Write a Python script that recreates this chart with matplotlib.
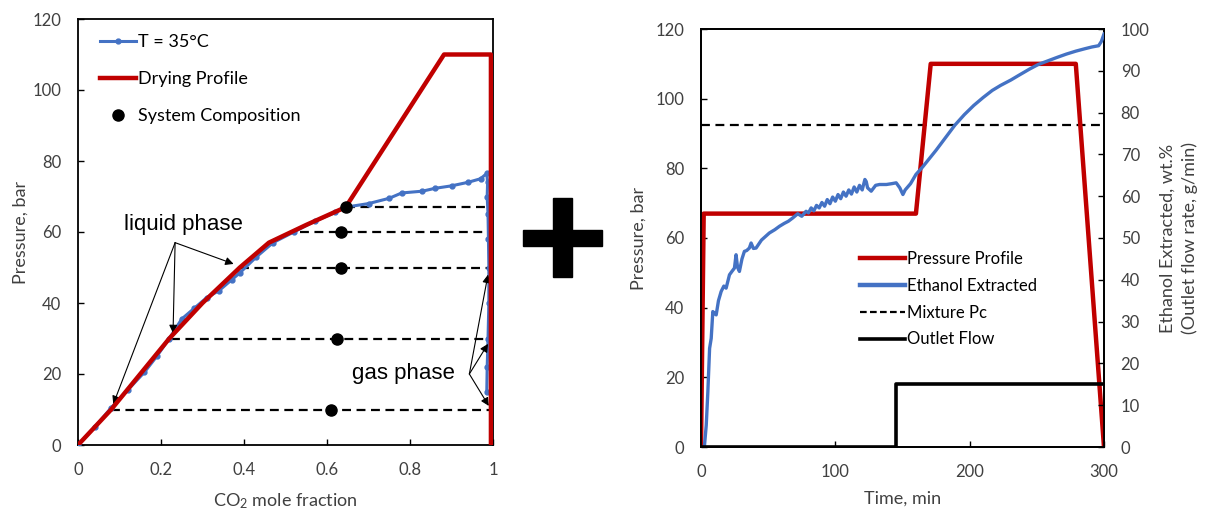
import matplotlib
matplotlib.use('Agg')
import matplotlib.pyplot as plt
from matplotlib.patches import Rectangle
from matplotlib.lines import Line2D

plt.rcParams['font.family'] = ['Lato', 'DejaVu Sans']
plt.rcParams['mathtext.default'] = 'regular'

RED = '#C00000'
BLUE = '#4472C4'
GREY = '#404040'

# ---- left chart: CO2 / ethanol phase diagram at 35 C ----
vle_x = [0, 0.04, 0.08, 0.12, 0.16, 0.19, 0.22, 0.25, 0.28, 0.31, 0.34, 0.37, 0.39,
         0.43, 0.47, 0.52, 0.57, 0.62, 0.645, 0.70, 0.75, 0.78, 0.83, 0.86, 0.90,
         0.94, 0.97, 0.985,
         0.987, 0.986, 0.988, 0.989, 0.990, 0.990, 0.988, 0.986, 0.985]
vle_p = [0, 5, 10.5, 15.5, 20.5, 25, 30, 35.5, 38.5, 41.5, 43.5, 46.5, 48.5,
         53, 57, 60, 63, 65.5, 67, 68, 69.5, 71, 71.5, 72.3, 73,
         74, 75, 76.5,
         74, 70, 65, 58, 50, 40, 30, 22, 15]

dry_x = [0, 0.08, 0.22, 0.30, 0.39, 0.46, 0.55, 0.645, 0.882, 0.995, 0.995]
dry_p = [0, 10, 30, 40, 50, 57, 62, 67, 110, 110, 0]

tie_p = [10, 30, 50, 60, 67]
tie_x_liq = [0.08, 0.225, 0.39, 0.535, 0.645]
tie_x_gas = [0.995, 0.995, 0.995, 0.995, 0.995]
comp_x = [0.61, 0.625, 0.633, 0.633, 0.645]

# ---- right chart: drying run ----
prof_t = [0, 2, 160, 171, 279, 300]
prof_p = [0, 67, 67, 110, 110, 0]

pc_t = [0, 300]
pc_p = [92.5, 92.5]

flow_t = [0, 145, 145, 300]
flow_r = [0, 0, 15, 15]

eth_t = [2.5, 3.9, 5.1, 6.4, 7.6, 8.8, 10, 11.3, 13, 15, 17, 18.7, 21.2, 23, 24.9,
         26.1, 27.2, 28.6, 30.5, 32.3, 34, 36, 37.3, 39, 41, 45, 50.9, 55, 58.4,
         62, 65, 68.3, 72, 75, 78.2, 80, 82, 84, 86, 88, 90, 92, 94, 96, 98, 100,
         102, 104, 106, 108, 110, 112, 114, 116, 118, 120, 122, 123, 124, 126.7,
         130, 132.9, 138, 142, 145.3, 148, 150.3, 152, 156, 160, 165, 170, 175,
         182, 189, 196, 203, 210, 216.8, 223, 230.7, 237, 244.5, 251, 258.4, 265,
         272, 279, 286, 291, 296, 298, 300]
eth_w = [0, 5.2, 13.2, 23.6, 26, 32.4, 32, 31.6, 35, 37.2, 38.5, 38, 41.2, 42, 42.8,
         46, 43, 42, 45, 46.8, 47, 47.6, 48.8, 47.5, 47.6, 49.5, 51.2, 52, 52.8,
         53.5, 54, 54.8, 55.8, 55.2, 56.4, 56, 57.2, 56.5, 57.8, 57.2, 58.5, 57.6,
         59.2, 58.2, 59.8, 58.8, 60.4, 59.4, 61, 60, 61.5, 60.5, 62.2, 61, 62.6,
         61.5, 64, 63.5, 62, 61.2, 62.6, 62.8, 62.8, 63, 63.2, 62, 60.4, 61.5, 63,
         65.2, 67, 69, 71, 74, 77, 79.5, 81.7, 83.6, 85.3, 86.5, 87.8, 89, 90.4,
         91.5, 92.4, 93.2, 94, 94.7, 95.3, 95.7, 96, 97, 98.8]

W, H = 1205, 513
fig = plt.figure(figsize=(W / 100, H / 100), dpi=100)


def px_box(x0, x1, ytop, ybot):
    return [x0 / W, 1 - ybot / H, (x1 - x0) / W, (ybot - ytop) / H]


def style(ax):
    ax.tick_params(direction='in', length=4, width=1, labelsize=12,
                   labelcolor=GREY, pad=12)
    for s in ax.spines.values():
        s.set_linewidth(1.3)


# left
ax = fig.add_axes(px_box(78, 493, 19, 445))
for xl, xg, p in zip(tie_x_liq, tie_x_gas, tie_p):
    ax.plot([xl, xg], [p, p], color='black', lw=1.6, ls=(0, (4, 2.5)), zorder=2)
ax.plot(vle_x, vle_p, color=BLUE, lw=2.2, marker='o', ms=3.5, zorder=3,
        label='T = 35°C')
ax.plot(dry_x, dry_p, color=RED, lw=3.2, zorder=4, label='Drying Profile')
ax.plot(comp_x, tie_p, 'o', color='black', ms=8, zorder=5,
        label='System Composition')
ax.set_xlim(0, 1)
ax.set_ylim(0, 120)
ax.set_xticks([0, 0.2, 0.4, 0.6, 0.8, 1])
ax.set_xticklabels(['0', '0.2', '0.4', '0.6', '0.8', '1'])
ax.set_yticks(range(0, 121, 20))
style(ax)
ax.set_xlabel('CO$_2$ mole fraction', fontsize=13, color=GREY)
ax.set_ylabel('Pressure, bar', fontsize=13, color=GREY)
ax.xaxis.set_label_coords(0.5, -0.108)
ax.yaxis.set_label_coords(-0.118, 0.5)
ax.legend(loc='upper left', bbox_to_anchor=(100 / W, 1 - 34 / H),
          bbox_transform=fig.transFigure, frameon=False, fontsize=13,
          handlelength=2.0, handletextpad=0.1, labelspacing=1.17,
          borderpad=0, borderaxespad=0)

arrow = dict(arrowstyle='-|>', color='black', lw=0.8,
             mutation_scale=12, shrinkA=0, shrinkB=0)
ax.text(0.254, 62, 'liquid phase', fontsize=16, ha='center', va='center',
        family='Liberation Sans')
for tx, ty in [(0.085, 11.5), (0.229, 31.5), (0.375, 51)]:
    ax.annotate('', xy=(tx, ty), xytext=(0.234, 57), arrowprops=arrow)
ax.text(0.785, 20, 'gas phase', fontsize=16, ha='center', va='center',
        family='Liberation Sans')
for tx, ty in [(0.988, 48), (0.988, 28.5), (0.99, 11)]:
    ax.annotate('', xy=(tx, ty), xytext=(0.943, 20), arrowprops=arrow)

# plus sign between the panels
fig.patches.append(Rectangle((523 / W, 1 - 246 / H), 79 / W, 16 / H,
                             transform=fig.transFigure, color='black'))
fig.patches.append(Rectangle((553 / W, 1 - 277 / H), 19 / W, 79 / H,
                             transform=fig.transFigure, color='black'))

# right
bx = fig.add_axes(px_box(701, 1104, 29, 447))
bx.plot(prof_t, prof_p, color=RED, lw=3.2, zorder=3)
bx.plot(pc_t, pc_p, color='black', lw=1.6, ls=(0, (4, 2.5)), zorder=2)
bx.set_xlim(0, 300)
bx.set_ylim(0, 120)
bx.set_xticks([0, 100, 200, 300])
bx.set_yticks(range(0, 121, 20))
style(bx)
bx.set_xlabel('Time, min', fontsize=13, color=GREY)
bx.set_ylabel('Pressure, bar', fontsize=13, color=GREY)
bx.xaxis.set_label_coords(0.5, -0.105)
bx.yaxis.set_label_coords(-0.136, 0.5)

b2 = bx.twinx()
b2.plot(eth_t, eth_w, color=BLUE, lw=2.4, zorder=3)
b2.plot(flow_t, flow_r, color='black', lw=2.6, zorder=4)
b2.set_ylim(0, 100)
b2.set_yticks(range(0, 101, 10))
style(b2)
b2.set_ylabel('Ethanol Extracted, wt.%\n(Outlet flow rate, g/min)',
              fontsize=13, color=GREY, linespacing=1.45)
b2.yaxis.set_label_coords(1.137, 0.5)

handles = [Line2D([], [], color=RED, lw=3.2),
           Line2D([], [], color=BLUE, lw=3.2),
           Line2D([], [], color='black', lw=1.6, ls=(0, (3, 1.5))),
           Line2D([], [], color='black', lw=2.6)]
labels = ['Pressure Profile', 'Ethanol Extracted', 'Mixture Pc', 'Outlet Flow']
b2.legend(handles, labels, loc='upper left', bbox_to_anchor=(860 / W, 1 - 251 / H),
          bbox_transform=fig.transFigure, frameon=False, fontsize=12,
          handlelength=2.7, handletextpad=0.1, labelspacing=0.65,
          borderpad=0, borderaxespad=0)

fig.savefig('out.png', dpi=100)
